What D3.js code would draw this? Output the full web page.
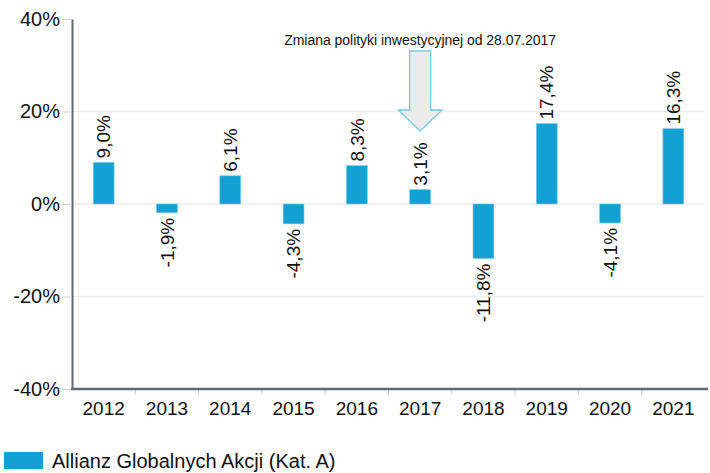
<!DOCTYPE html>
<html><head><meta charset="utf-8">
<script src="https://cdn.jsdelivr.net/npm/d3@7"></script>
<style>body{margin:0;background:#fff}svg{display:block;font-family:"Liberation Sans",Arial,sans-serif}</style>
</head><body><svg id="c" width="710" height="473"></svg>
<script>
const years = ["2012","2013","2014","2015","2016","2017","2018","2019","2020","2021"];
const values = [9.0,-1.9,6.1,-4.3,8.3,3.1,-11.8,17.4,-4.1,16.3];
const yTicks = [-40,-20,0,20,40];
const seriesName = "Allianz Globalnych Akcji (Kat. A)";
const note = "Zmiana polityki inwestycyjnej od 28.07.2017";
const noteYear = "2017";

const svg = d3.select("#c");
const L=72, R=705, T=19, B=389;
const x = d3.scaleBand().domain(years).range([L,R]).paddingInner(0.67).paddingOuter(0.335);
const xb = d3.scaleBand().domain(years).range([L,R]);
const y = d3.scaleLinear().domain([-40,40]).range([B,T]);
const color = "#13a1d4";
const fmt = v => v.toFixed(1).replace(".",",")+"%";

// grid
svg.append("g").selectAll("line").data(yTicks.filter(t=>t>-40 && t<40)).join("line")
  .attr("x1",L).attr("x2",R).attr("y1",d=>y(d)).attr("y2",d=>y(d))
  .attr("stroke","#ececec").attr("stroke-width",1.5);

// y axis
const ya = svg.append("g").attr("transform",`translate(${L},0)`)
  .call(d3.axisLeft(y).tickValues(yTicks).tickFormat(d=>d+"%").tickSize(10).tickSizeOuter(0));
ya.select(".domain").attr("stroke","#5e6a76").attr("stroke-width",2);
ya.selectAll(".tick line").attr("stroke","#cfcfcf");
ya.selectAll(".tick text").attr("font-size",20).attr("fill","#111").attr("x",-12)
  .attr("font-family","Liberation Sans, Arial, sans-serif");

// x axis
const xa = svg.append("g").attr("transform",`translate(0,${B})`)
  .call(d3.axisBottom(xb).tickSize(0).tickSizeOuter(0));
xa.select(".domain").remove();
xa.selectAll(".tick text").attr("font-size",19).attr("fill","#111").attr("dy","1.2em")
  .attr("font-family","Liberation Sans, Arial, sans-serif");
svg.append("g").selectAll("line").data(years.slice(1)).join("line")
  .attr("x1",d=>xb(d)).attr("x2",d=>xb(d)).attr("y1",B).attr("y2",B+6)
  .attr("stroke","#cfcfcf");
svg.append("line").attr("x1",L-1).attr("x2",708).attr("y1",B).attr("y2",B)
  .attr("stroke","#5e6a76").attr("stroke-width",2.5);

// bars
svg.append("g").selectAll("rect").data(values).join("rect")
  .attr("x",(d,i)=>x(years[i])).attr("width",x.bandwidth())
  .attr("y",d=>y(Math.max(0,d))).attr("height",d=>Math.abs(y(d)-y(0)))
  .attr("fill",color).attr("stroke","#7fcbe8").attr("stroke-width",0.6);

// value labels
svg.append("g").selectAll("text").data(values).join("text")
  .attr("transform",(d,i)=>{
    const cx = x(years[i])+x.bandwidth()/2;
    const yy = d>=0 ? y(d)-4 : y(d)+5;
    return `translate(${cx},${yy}) rotate(-90)`;
  })
  .attr("text-anchor",d=>d>=0?"start":"end")
  .attr("dy","0.35em")
  .attr("font-size",19).attr("fill","#111").text(fmt);

// annotation
const ax = x(noteYear)+x.bandwidth()/2;
svg.append("text").attr("x",ax).attr("y",45).attr("text-anchor","middle")
  .attr("font-size",14).attr("fill","#111").attr("textLength",272).text(note);
const path = d3.path();
path.moveTo(ax-10.5,51); path.lineTo(ax+10.5,51); path.lineTo(ax+10.5,110);
path.lineTo(ax+22,110); path.lineTo(ax,131); path.lineTo(ax-22,110);
path.lineTo(ax-10.5,110); path.closePath();
svg.append("path").attr("d",path.toString()).attr("fill","#ebebeb")
  .attr("stroke","#7ec9e4").attr("stroke-width",1.3);

// legend
svg.append("rect").attr("x",4).attr("y",452).attr("width",39).attr("height",17).attr("fill",color);
svg.append("text").attr("x",52).attr("y",468).attr("font-size",20).attr("fill","#111").text(seriesName);
</script></body></html>
